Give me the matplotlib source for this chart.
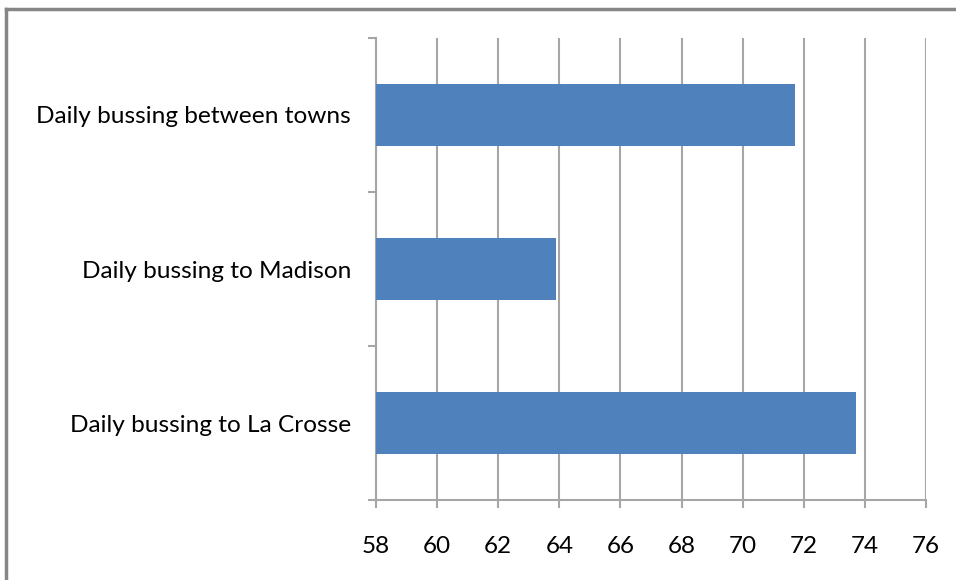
import matplotlib.pyplot as plt
from matplotlib.lines import Line2D
import numpy as np

# survey results: support for each bussing option
categories = ['Daily bussing between towns', 'Daily bussing to Madison', 'Daily bussing to La Crosse']
values = [71.7, 63.9, 73.7]
x_ticks = [58, 60, 62, 64, 66, 68, 70, 72, 74, 76]

plt.rcParams['font.family'] = ['Lato', 'DejaVu Sans']

grey = '#a6a6a6'

fig = plt.figure(figsize=(9.56, 5.8), dpi=100)
ax = fig.add_axes([0.3933, 0.1379, 0.5753, 0.7966])

y = np.arange(len(categories))
ax.barh(y, values, height=0.4, left=0, color='#4f81bd', zorder=3)

ax.set_xlim(58, 76)
ax.set_ylim(len(categories) - 0.5, -0.5)

ax.set_xticks(x_ticks)
ax.set_xticklabels([str(t) for t in x_ticks], fontsize=17.5)
ax.set_yticks(y)
ax.set_yticklabels(categories, fontsize=17.6)
ax.set_yticks(np.arange(len(categories) + 1) - 0.5, minor=True)

ax.grid(axis='x', color=grey, linewidth=1.5, zorder=0)
for side in ['top', 'right']:
    ax.spines[side].set_visible(False)
for side in ['left', 'bottom']:
    ax.spines[side].set_color(grey)
    ax.spines[side].set_linewidth(1.5)

ax.tick_params(axis='x', length=6, width=1.5, color=grey, pad=20)
ax.tick_params(axis='y', which='major', length=0, pad=18)
ax.tick_params(axis='y', which='minor', length=6, width=1.5, color=grey)

# outer chart frame, only the left and top edges fall inside the image
fig.add_artist(Line2D([6 / 956, 6 / 956], [0, 1 - 9 / 580], transform=fig.transFigure,
                      color='#868686', linewidth=2.5))
fig.add_artist(Line2D([6 / 956, 1], [1 - 9 / 580, 1 - 9 / 580], transform=fig.transFigure,
                      color='#868686', linewidth=2.5))

fig.savefig('out.png', dpi=100)
